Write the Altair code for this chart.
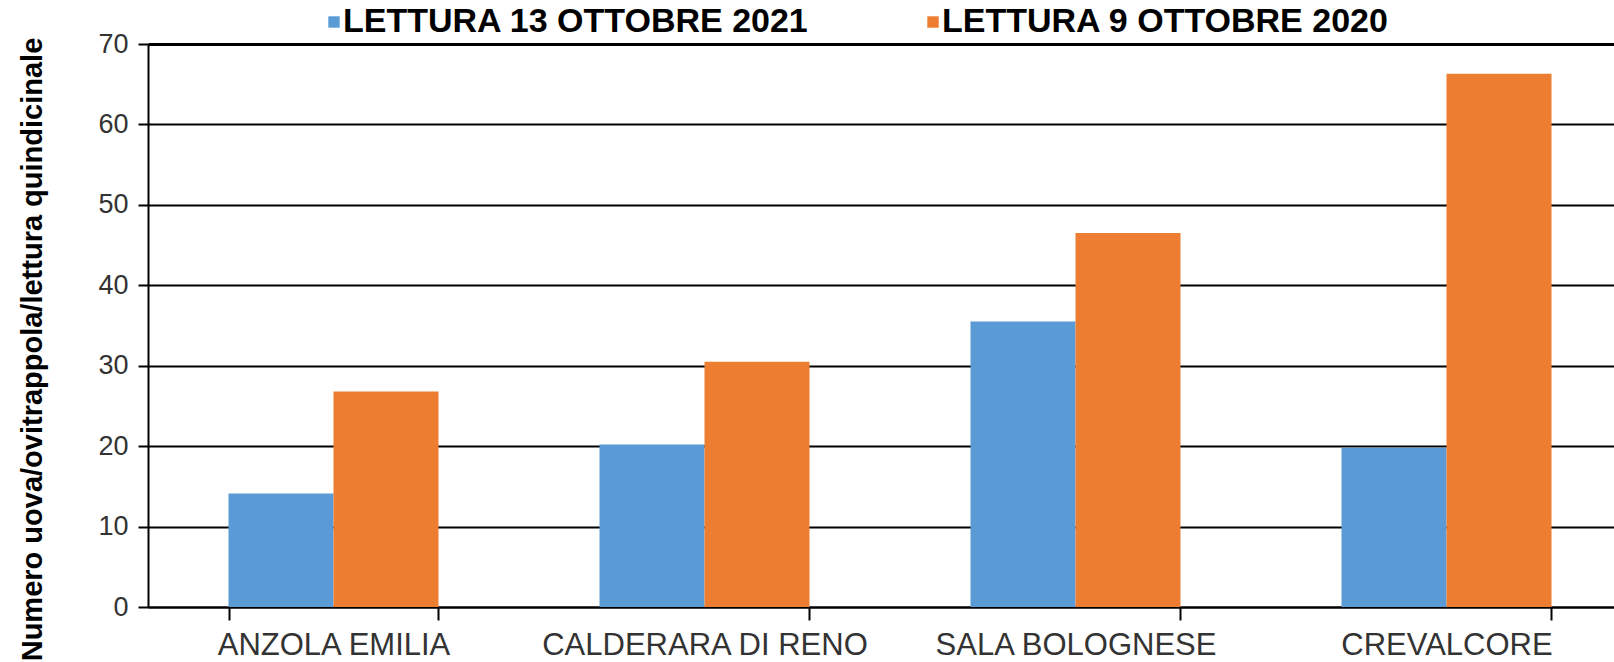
import altair as alt
import pandas as pd

comuni = ["ANZOLA EMILIA", "CALDERARA DI RENO", "SALA BOLOGNESE", "CREVALCORE"]
serie = ["LETTURA 13 OTTOBRE 2021", "LETTURA 9 OTTOBRE 2020"]
valori_2021 = [14.1, 20.2, 35.5, 19.8]
valori_2020 = [26.8, 30.5, 46.5, 66.3]
colori = ["#5B9BD5", "#ED7D31"]

rows = []
for c, v in zip(comuni, valori_2021):
    rows.append({"comune": c, "serie": serie[0], "valore": v})
for c, v in zip(comuni, valori_2020):
    rows.append({"comune": c, "serie": serie[1], "valore": v})
df = pd.DataFrame(rows)

FONT = "Liberation Sans"

chart = alt.Chart(df).mark_bar().encode(
    x=alt.X(
        "comune:N",
        sort=comuni,
        scale=alt.Scale(range=[0, 1484], paddingInner=0.434, paddingOuter=0.217),
        axis=alt.Axis(
            title=None,
            labelAngle=0,
            labelFont=FONT,
            labelFontSize=31,
            labelColor="#333333",
            labelPadding=10,
            tickBand="extent",
            tickSize=13,
            tickColor="black",
            tickWidth=2,
            domainColor="black",
            domainWidth=2,
            grid=False,
            labelLimit=400,
        ),
    ),
    xOffset=alt.XOffset("serie:N", sort=serie),
    y=alt.Y(
        "valore:Q",
        scale=alt.Scale(domain=[0, 70], nice=False),
        axis=alt.Axis(
            title="Numero uova/ovitrappola/lettura quindicinale",
            titleFont=FONT,
            titleFontSize=29,
            titleFontWeight="bold",
            titleColor="black",
            titleAngle=270,
            titleAlign="center",
            titleBaseline="middle",
            titleX=-116,
            titleY=305,
            values=[0, 10, 20, 30, 40, 50, 60, 70],
            labelFont=FONT,
            labelFontSize=27,
            labelColor="#333333",
            labelPadding=10,
            tickSize=10,
            tickColor="black",
            tickWidth=2,
            domainColor="black",
            domainWidth=2,
            grid=True,
            gridColor="black",
            gridOpacity=1,
            gridWidth=alt.ExprRef("datum.value === 70 ? 3 : 2"),
        ),
    ),
    color=alt.Color(
        "serie:N",
        sort=serie,
        scale=alt.Scale(domain=serie, range=colori),
        legend=alt.Legend(
            title=None,
            orient="none",
            legendX=169,
            legendY=-39,
            direction="horizontal",
            labelFont=FONT,
            labelFontSize=34,
            labelFontWeight="bold",
            labelColor="black",
            labelOffset=alt.ExprRef("-8"),
            labelLimit=600,
            symbolType="square",
            symbolSize=130,
            symbolStrokeWidth=0,
            symbolOpacity=1,
            columnPadding=106,
            padding=0,
        ),
    ),
).properties(
    width=1466,
    height=563,
    autosize=alt.AutoSizeParams(type="none"),
    padding={"left": 148, "top": 44, "right": 0, "bottom": 55},
).configure_view(
    fill="#FFFFCC",
    stroke=None,
).configure(background="white")

chart.save("out.html", embed_options={"renderer": "svg", "actions": False})
